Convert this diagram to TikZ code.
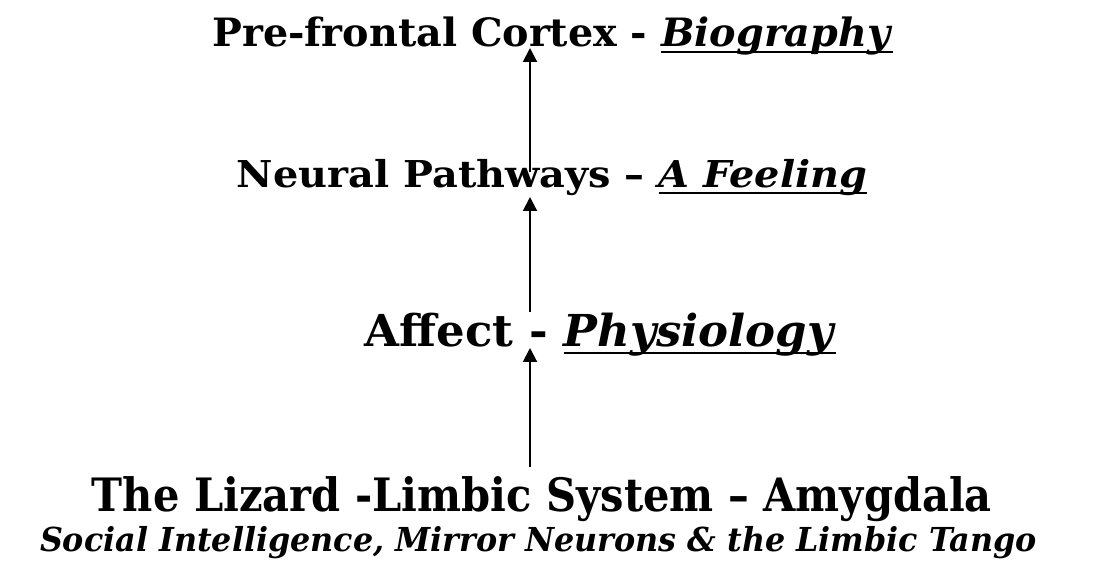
\documentclass[tikz,border=0pt]{standalone}
\usepackage{fontspec}
\usepackage{graphicx}
\usetikzlibrary{arrows.meta}
\setmainfont{DejaVu Serif}
\newsavebox{\ulbox}
\newcommand{\myul}[1]{\sbox{\ulbox}{#1}\rlap{\rule[-0.16em]{\wd\ulbox}{0.055em}}\usebox{\ulbox}}
\newcommand{\fitw}[2]{\resizebox{#1}{\height}{#2}}
\begin{document}
\begin{tikzpicture}[x=1pt,y=1pt,
  lbl/.style={anchor=base,inner sep=0pt,outer sep=0pt,font=\bfseries},
  arr/.style={-{Triangle[length=14pt,width=14pt]},line width=2pt}]
\useasboundingbox (0,0) rectangle (1097,564);
\fill[white] (0,0) rectangle (1097,564);
\node[lbl] (pfc) at (552.5,517) {\fontsize{39}{44}\selectfont\fitw{680pt}{Pre-frontal Cortex - \myul{\textit{Biography}}}};
\node[lbl] (np) at (552,376) {\fontsize{37}{42}\selectfont\fitw{630pt}{Neural Pathways – \myul{\textit{A Feeling}}}};
\node[lbl] (aff) at (600.5,217) {\fontsize{44}{50}\selectfont\fitw{471pt}{Affect - \myul{\textit{Physiology}}}};
\node[lbl] (liz) at (542,52) {\fontsize{46}{54}\selectfont\fitw{900pt}{The Lizard -Limbic System – Amygdala}};
\node[lbl] (soc) at (538.5,12) {\fontsize{33}{38}\selectfont\fitw{997pt}{\textit{Social Intelligence, Mirror Neurons \& the Limbic Tango}}};
\coordinate (a1s) at (530,392); \coordinate (a1e) at (530,516);
\coordinate (a2s) at (530,252); \coordinate (a2e) at (530,367);
\coordinate (a3s) at (530,97);  \coordinate (a3e) at (530,216);
\draw[arr] (a1s) -- (a1e);
\draw[arr] (a2s) -- (a2e);
\draw[arr] (a3s) -- (a3e);
\end{tikzpicture}
\end{document}
